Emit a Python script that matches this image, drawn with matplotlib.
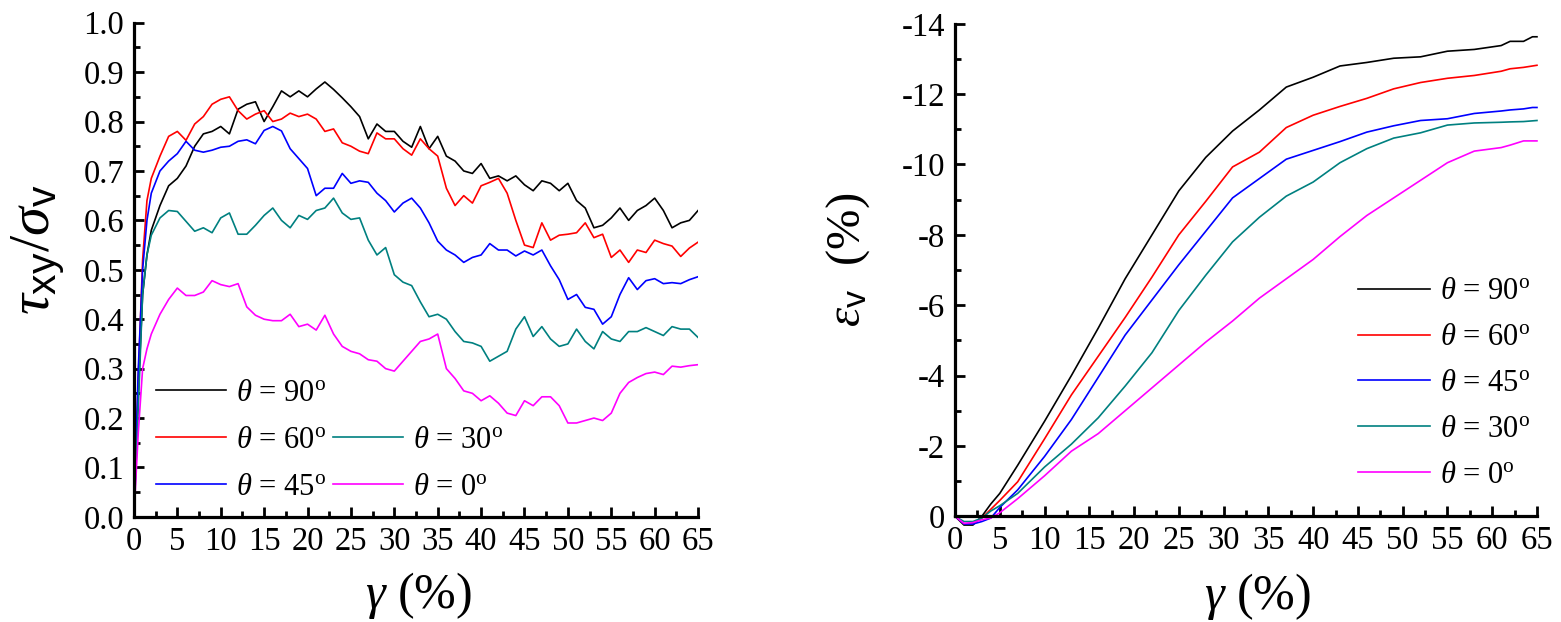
import numpy as np
import matplotlib
matplotlib.use('Agg')
from matplotlib import pyplot as plt
from matplotlib.lines import Line2D
from matplotlib.ticker import MultipleLocator, FormatStrFormatter

plt.rcParams['font.family'] = 'Liberation Serif'
plt.rcParams['mathtext.fontset'] = 'custom'
plt.rcParams['mathtext.rm'] = 'Liberation Serif'
plt.rcParams['mathtext.it'] = 'Liberation Serif:italic'
plt.rcParams['mathtext.sf'] = 'Liberation Sans'
plt.rcParams['axes.unicode_minus'] = False

# left panel: shear stress ratio vs shear strain
gamma_l = [0, 0.5, 1, 1.5] + list(range(2, 66))

tau_90 = [0, 0.25, 0.45, 0.53,
          0.58, 0.63, 0.67, 0.685, 0.71, 0.75, 0.775, 0.78, 0.79, 0.775,
          0.825, 0.835, 0.84, 0.80, 0.83, 0.862, 0.85, 0.862, 0.85, 0.866,
          0.88, 0.865, 0.848, 0.83, 0.81, 0.765, 0.795, 0.78, 0.78, 0.76,
          0.748, 0.79, 0.745, 0.77, 0.73, 0.72, 0.70, 0.695, 0.715, 0.685,
          0.69, 0.68, 0.69, 0.672, 0.66, 0.68, 0.675, 0.66, 0.675, 0.64,
          0.625, 0.585, 0.59, 0.605, 0.625, 0.60, 0.62, 0.63, 0.645, 0.62,
          0.585, 0.595, 0.60, 0.62]
tau_60 = [0, 0.28, 0.52, 0.64,
          0.685, 0.73, 0.77, 0.78, 0.762, 0.795, 0.81, 0.835, 0.845, 0.85,
          0.822, 0.805, 0.815, 0.822, 0.80, 0.805, 0.817, 0.81, 0.815, 0.805,
          0.78, 0.785, 0.757, 0.75, 0.74, 0.735, 0.777, 0.765, 0.765, 0.745,
          0.732, 0.765, 0.745, 0.73, 0.665, 0.63, 0.65, 0.635, 0.67, 0.677,
          0.685, 0.655, 0.60, 0.55, 0.545, 0.595, 0.56, 0.57, 0.572, 0.575,
          0.595, 0.565, 0.572, 0.525, 0.54, 0.515, 0.54, 0.535, 0.56, 0.553,
          0.548, 0.527, 0.544, 0.556]
tau_45 = [0, 0.30, 0.50, 0.60,
          0.655, 0.70, 0.72, 0.735, 0.76, 0.742, 0.738, 0.742, 0.748, 0.75,
          0.76, 0.763, 0.755, 0.782, 0.79, 0.781, 0.745, 0.725, 0.705, 0.65,
          0.665, 0.665, 0.695, 0.675, 0.68, 0.677, 0.655, 0.64, 0.617, 0.635,
          0.645, 0.625, 0.595, 0.558, 0.54, 0.53, 0.515, 0.525, 0.53, 0.553,
          0.54, 0.54, 0.528, 0.538, 0.53, 0.54, 0.508, 0.48, 0.44, 0.45,
          0.424, 0.42, 0.39, 0.405, 0.45, 0.484, 0.46, 0.478, 0.482, 0.472,
          0.474, 0.472, 0.48, 0.486]
tau_30 = [0, 0.22, 0.45, 0.53,
          0.57, 0.605, 0.62, 0.618, 0.598, 0.578, 0.585, 0.575, 0.605, 0.615,
          0.572, 0.572, 0.59, 0.61, 0.625, 0.60, 0.585, 0.61, 0.602, 0.62,
          0.625, 0.645, 0.615, 0.602, 0.605, 0.56, 0.53, 0.545, 0.49, 0.475,
          0.468, 0.435, 0.405, 0.41, 0.40, 0.375, 0.355, 0.352, 0.345, 0.315,
          0.325, 0.335, 0.38, 0.405, 0.365, 0.385, 0.36, 0.345, 0.35, 0.38,
          0.355, 0.34, 0.375, 0.36, 0.355, 0.375, 0.375, 0.383, 0.375, 0.367,
          0.385, 0.38, 0.38, 0.363]
tau_0 = [0, 0.17, 0.30, 0.34,
         0.37, 0.41, 0.44, 0.463, 0.448, 0.448, 0.455, 0.478, 0.47, 0.466,
         0.472, 0.425, 0.408, 0.40, 0.397, 0.397, 0.41, 0.385, 0.39, 0.378,
         0.408, 0.37, 0.345, 0.335, 0.33, 0.318, 0.315, 0.30, 0.295, 0.315,
         0.335, 0.355, 0.36, 0.37, 0.30, 0.28, 0.255, 0.25, 0.235, 0.245,
         0.23, 0.21, 0.205, 0.235, 0.225, 0.243, 0.243, 0.225, 0.19, 0.19,
         0.195, 0.20, 0.195, 0.21, 0.25, 0.272, 0.282, 0.29, 0.293, 0.288,
         0.305, 0.303, 0.306, 0.308]

# right panel: volumetric strain vs shear strain
gamma_r = [0, 1, 2, 3, 4, 5, 7, 10, 13, 16, 19, 22, 25, 28, 31, 34, 37, 40,
           43, 46, 49, 52, 55, 58, 61, 62, 63.5, 64.5, 65]
ev_90 = [0, 0.25, 0.25, 0.0, -0.35, -0.65, -1.45, -2.7, -4.0, -5.35, -6.75,
         -8.0, -9.25, -10.2, -10.95, -11.55, -12.2, -12.48, -12.8, -12.9,
         -13.02, -13.06, -13.22, -13.27, -13.38, -13.5, -13.5, -13.63, -13.63]
ev_60 = [0, 0.22, 0.2, 0.05, -0.2, -0.45, -0.98, -2.2, -3.45, -4.55, -5.65,
         -6.8, -8.0, -8.95, -9.93, -10.35, -11.05, -11.4, -11.65, -11.88,
         -12.15, -12.33, -12.45, -12.53, -12.65, -12.72, -12.76, -12.8, -12.82]
ev_45 = [0, 0.22, 0.22, 0.15, 0.05, -0.25, -0.75, -1.7, -2.75, -3.95, -5.15,
         -6.15, -7.15, -8.1, -9.05, -9.6, -10.15, -10.4, -10.65, -10.92,
         -11.1, -11.25, -11.3, -11.45, -11.52, -11.55, -11.58, -11.62, -11.62]
ev_30 = [0, 0.15, 0.15, 0.05, -0.15, -0.3, -0.65, -1.4, -2.05, -2.8, -3.7,
         -4.65, -5.85, -6.85, -7.8, -8.5, -9.1, -9.5, -10.05, -10.45,
         -10.75, -10.9, -11.12, -11.18, -11.2, -11.21, -11.22, -11.24, -11.25]
ev_0 = [0, 0.2, 0.18, 0.1, 0.05, -0.1, -0.5, -1.15, -1.85, -2.35, -3.0,
        -3.65, -4.3, -4.95, -5.55, -6.2, -6.75, -7.3, -7.95, -8.55,
        -9.05, -9.55, -10.05, -10.38, -10.48, -10.55, -10.67, -10.67, -10.67]

labels = [r'$\theta$ = 90$^{\mathrm{o}}$', r'$\theta$ = 60$^{\mathrm{o}}$',
          r'$\theta$ = 45$^{\mathrm{o}}$', r'$\theta$ = 30$^{\mathrm{o}}$',
          r'$\theta$ = 0$^{\mathrm{o}}$']
colors = ['black', '#ff0000', '#0000ff', '#008080', '#ff00ff']

fig = plt.figure(figsize=(15.61, 6.22), dpi=100)
ax1 = fig.add_axes([0.0858, 0.169, 0.3614, 0.7945])
ax2 = fig.add_axes([0.6118, 0.170, 0.3728, 0.7918])


def style(ax):
    for s in ['top', 'right']:
        ax.spines[s].set_visible(False)
    for s in ['left', 'bottom']:
        ax.spines[s].set_linewidth(2.3)
    ax.tick_params(which='both', direction='in', width=2.0, labelsize=23.5)
    ax.tick_params(which='major', length=7.5, pad=7)
    ax.tick_params(which='minor', length=4.5)
    ax.xaxis.set_major_locator(MultipleLocator(5))
    ax.xaxis.set_minor_locator(MultipleLocator(2.5))
    ax.set_xlim(0, 65)


lines1 = []
for ys, c, lab in zip([tau_90, tau_60, tau_45, tau_30, tau_0], colors, labels):
    l, = ax1.plot(gamma_l, ys, color=c, lw=1.2, label=lab)
    lines1.append(l)
style(ax1)
ax1.set_ylim(0, 1.0)
ax1.yaxis.set_major_locator(MultipleLocator(0.1))
ax1.yaxis.set_minor_locator(MultipleLocator(0.05))
ax1.yaxis.set_major_formatter(FormatStrFormatter('%.1f'))
ax1.set_xlabel(r'$\gamma$ (%)', fontsize=36)
ax1.xaxis.set_label_coords(0.505, -0.108)
ax1.set_ylabel(r'$\tau_{\mathsf{xy}}/\sigma_{\mathsf{v}}$', fontsize=42)
ax1.yaxis.set_label_coords(-0.118, 0.54)

blank = Line2D([], [], color='none')
h = [lines1[0], lines1[1], lines1[2], blank, lines1[3], lines1[4]]
lb = [labels[0], labels[1], labels[2], '', labels[3], labels[4]]
ax1.legend(h, lb, ncol=2, loc='upper left', bbox_to_anchor=(0.039, 0.28),
           frameon=False, fontsize=22, handlelength=2.3, handletextpad=0.33,
           columnspacing=0.22, labelspacing=0.6, borderpad=0, borderaxespad=0)

for ys, c, lab in zip([ev_90, ev_60, ev_45, ev_30, ev_0], colors, labels):
    ax2.plot(gamma_r, ys, color=c, lw=1.2, label=lab, clip_on=False)
style(ax2)
ax2.set_ylim(0, -14)
ax2.yaxis.set_major_locator(MultipleLocator(2))
ax2.yaxis.set_minor_locator(MultipleLocator(1))
ax2.set_xlabel(r'$\gamma$ (%)', fontsize=36)
ax2.xaxis.set_label_coords(0.52, -0.112)
ax2.set_ylabel(r'$\varepsilon_{\mathsf{v}}$  (%)', fontsize=35)
ax2.yaxis.set_label_coords(-0.143, 0.52)
ax2.legend(loc='upper left', bbox_to_anchor=(0.692, 0.485), frameon=False,
           fontsize=22, handlelength=2.36, handletextpad=0.33,
           labelspacing=0.55, borderpad=0, borderaxespad=0)

fig.savefig('out.png', dpi=100)
